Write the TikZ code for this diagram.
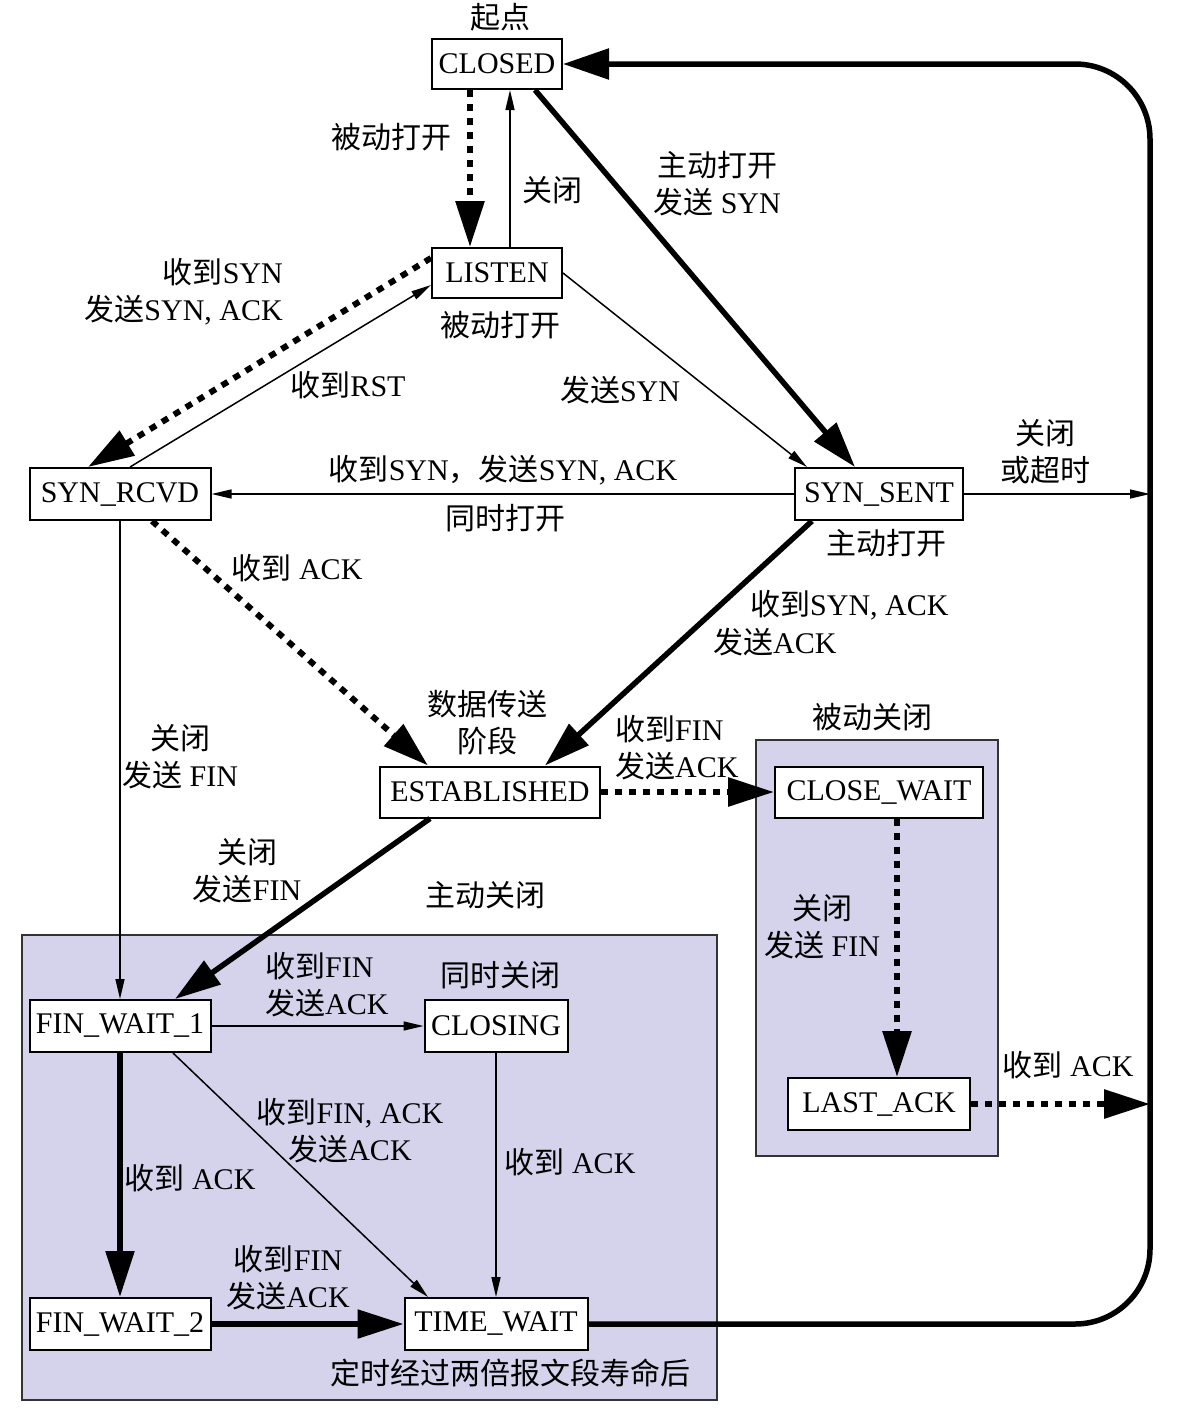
\documentclass[tikz,border=0pt]{standalone}
\usepackage{fontspec}
\setmainfont{Liberation Serif}
\newfontfamily\cjk{Noto Sans CJK SC}
\newcommand{\zh}[1]{{\cjk #1}}
\newcommand{\fs}{\fontsize{30}{37}\selectfont}
\usetikzlibrary{arrows.meta,calc}
\definecolor{lav}{RGB}{213,210,236}
\tikzset{
  st/.style={draw, line width=2pt, fill=white, inner sep=0pt, font=\fs},
  lbl/.style={font=\fs, inner sep=0pt, align=center},
  arrthin/.style={line width=1.5pt, -{Triangle[length=20pt,width=9pt]}},
  arrthick/.style={line width=5.5pt, -{Triangle[length=46pt,width=28pt]}},
  arrdot/.style={line width=6pt, dash pattern=on 7pt off 7pt, -{Triangle[length=46pt,width=28pt]}},
  region/.style={draw=black!80, line width=2pt, fill=lav},
}
\begin{document}
\begin{tikzpicture}[x=1pt,y=-1pt]
\useasboundingbox (0,0) rectangle (1177,1408);
% regions
\path[region] (22,935) rectangle (717,1400);
\path[region] (756,740) rectangle (998,1156);
% states
\node[st, minimum width=130pt, minimum height=50pt] (closed) at (497,64) {CLOSED};
\node[st, minimum width=130pt, minimum height=50pt] (listen) at (497,273) {LISTEN};
\node[st, minimum width=181pt, minimum height=52pt] (synrcvd) at (120,494) {SYN\_RCVD};
\node[st, minimum width=168pt, minimum height=52pt] (synsent) at (879,494) {SYN\_SENT};
\node[st, minimum width=220pt, minimum height=51pt] (est) at (490,792) {ESTABLISHED};
\node[st, minimum width=208pt, minimum height=51pt] (cw) at (879,792) {CLOSE\_WAIT};
\node[st, minimum width=182pt, minimum height=52pt] (la) at (879,1104) {LAST\_ACK};
\node[st, minimum width=181pt, minimum height=52pt] (fw1) at (120,1026) {FIN\_WAIT\_1};
\node[st, minimum width=143pt, minimum height=52pt] (closing) at (496,1026) {CLOSING};
\node[st, minimum width=181pt, minimum height=52pt] (fw2) at (120,1324) {FIN\_WAIT\_2};
\node[st, minimum width=183pt, minimum height=52pt] (tw) at (496,1324) {TIME\_WAIT};
\coordinate (rA) at (1150,494);
\coordinate (rB) at (1150,1104);
% connectors
\draw[arrdot] ($(closed.south)+(-27,0)$) -- ($(listen.north)+(-27,0)$);
\draw[arrthin] ($(listen.north)+(13,0)$) -- ($(closed.south)+(13,0)$);
\draw[arrthick] ($(closed.south)+(38,0)$) -- ($(synsent.north)+(-24,0)$);
\draw[arrthin] (listen.east) -- ($(synsent.north west)+(13,0)$);
\draw[arrdot] ($(listen.west)+(0,-15)$) -- ($(synrcvd.north)+(-32,0)$);
\draw[arrthin] ($(synrcvd.north)+(10,0)$) -- ($(listen.west)+(0,12)$);
\draw[arrthin] (synsent.west) -- (synrcvd.east);
\draw[arrthick] ($(synsent.south)+(-67,0)$) -- ($(est.north)+(55,0)$);
\draw[arrdot] ($(synrcvd.south)+(32,0)$) -- ($(est.north)+(-62,0)$);
\draw[arrdot] (est.east) -- (cw.west);
\draw[arrdot] ($(cw.south)+(18,0)$) -- ($(la.north)+(18,0)$);
\draw[arrdot] (la.east) -- (rB);
\draw[arrthin] (synsent.east) -- (rA);
\draw[arrthin] (synrcvd.south) -- (fw1.north);
\draw[arrthick] ($(est.south)+(-60,0)$) -- ($(fw1.north)+(55,0)$);
\draw[arrthin] (fw1.east) -- (closing.west);
\draw[arrthin] ($(fw1.south)+(53,0)$) -- ($(tw.north)+(-68,0)$);
\draw[arrthin] (closing.south) -- (tw.north);
\draw[arrthick] (fw1.south) -- (fw2.north);
\draw[arrthick] (fw2.east) -- (tw.west);
\draw[line width=5.5pt, rounded corners=75pt, -{Triangle[length=46pt,width=30pt]}]
  (tw.east) -- (1150,1324) -- (1150,64) -- (closed.east);
% labels
\node[lbl] (t1) at (500,17) {\zh{起点}};
\node[lbl] (t2) at (391,137) {\zh{被动打开}};
\node[lbl] (t3) at (552,190) {\zh{关闭}};
\node[lbl] (t4) at (717,184) {\zh{主动打开}\\\zh{发送} SYN};
\node[lbl, align=right, anchor=east] (t5) at (283,292) {\zh{收到}SYN\\\zh{发送}SYN, ACK};
\node[lbl] (t6) at (500,325) {\zh{被动打开}};
\node[lbl] (t7) at (348,385) {\zh{收到}RST};
\node[lbl] (t8) at (620,390) {\zh{发送}SYN};
\node[lbl] (t9) at (503,470) {\zh{收到}SYN\zh{，发送}SYN, ACK};
\node[lbl] (t10) at (505,518) {\zh{同时打开}};
\node[lbl] (t11) at (1045,452) {\zh{关闭}\\\zh{或超时}};
\node[lbl] (t12) at (886,543) {\zh{主动打开}};
\node[lbl, anchor=west] (t13) at (750,605) {\zh{收到}SYN, ACK};
\node[lbl, anchor=west] (t14) at (713,642) {\zh{发送}ACK};
\node[lbl] (t15) at (297,568) {\zh{收到} ACK};
\node[lbl] (t16) at (487,723) {\zh{数据传送}\\\zh{阶段}};
\node[lbl, align=left, anchor=west] (t17) at (615,748) {\zh{收到}FIN\\\zh{发送}ACK};
\node[lbl] (t18) at (872,717) {\zh{被动关闭}};
\node[lbl] (t19) at (180,757) {\zh{关闭}\\\zh{发送} FIN};
\node[lbl] (t20) at (247,871) {\zh{关闭}\\\zh{发送}FIN};
\node[lbl] (t21) at (485,895) {\zh{主动关闭}};
\node[lbl] (t22) at (822,927) {\zh{关闭}\\\zh{发送} FIN};
\node[lbl] (t23) at (1068,1065) {\zh{收到} ACK};
\node[lbl, align=left, anchor=west] (t24) at (265,985) {\zh{收到}FIN\\\zh{发送}ACK};
\node[lbl] (t25) at (500,975) {\zh{同时关闭}};
\node[lbl] (t26) at (350,1131) {\zh{收到}FIN, ACK\\\zh{发送}ACK};
\node[lbl] (t27) at (570,1162) {\zh{收到} ACK};
\node[lbl] (t28) at (190,1178) {\zh{收到} ACK};
\node[lbl] (t29) at (288,1278) {\zh{收到}FIN\\\zh{发送}ACK};
\node[lbl] (t30) at (510,1373) {\zh{定时经过两倍报文段寿命后}};
\end{tikzpicture}
\end{document}
